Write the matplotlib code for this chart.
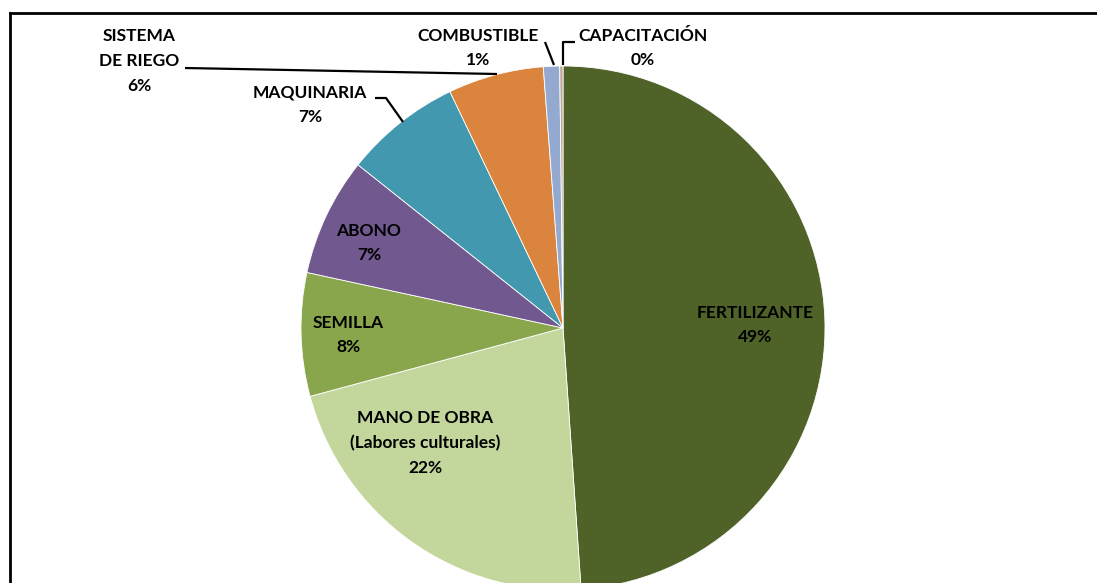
import matplotlib

matplotlib.use("Agg")

import matplotlib.pyplot as plt
import numpy as np

# data (share of production cost, %)
categories = ["FERTILIZANTE", "MANO DE OBRA\n(Labores culturales)", "SEMILLA", "ABONO",
              "MAQUINARIA", "SISTEMA\nDE RIEGO", "COMBUSTIBLE", "CAPACITACIÓN"]
shares = [48.9, 21.9, 7.6, 7.3, 7.2, 5.9, 1.0, 0.2]
colors = ["#4F6228", "#C3D69B", "#8AA64D", "#71588F", "#4198AF", "#DB843D", "#93A9D0", "#BFA898"]

# label placement in pixel coords (x, y from top)
label_pos = [(755, 325), (425, 443), (348, 335), (369, 243),
             (310, 105), (139, 61), (478, 48), (643, 48)]

W, H = 1097, 583
CX, CY, R = 563, 328, 262

plt.rcParams["font.family"] = ["Lato", "DejaVu Sans"]

fig = plt.figure(figsize=(W / 100, H / 100), dpi=100)
ax = fig.add_axes([0, 0, 1, 1])
ax.set_aspect("equal")
ax.axis("off")

wedges, _ = ax.pie(shares, colors=colors, startangle=90, counterclock=False,
                   center=(CX, H - CY), radius=R,
                   wedgeprops=dict(edgecolor="white", linewidth=0.6))
ax.set_xlim(0, W)
ax.set_ylim(0, H)

for name, val, (lx, ly) in zip(categories, shares, label_pos):
    ax.text(lx, H - ly, f"{name}\n{val:.0f}%", ha="center", va="center",
            fontsize=12.5, fontweight="bold", color="black", linespacing=1.68)

# leader lines for the outside labels
def leader(pts):
    xs = [p[0] for p in pts]
    ys = [H - p[1] for p in pts]
    ax.plot(xs, ys, color="black", lw=1.6, solid_capstyle="butt")

leader([(185, 68), (497, 74)])
leader([(375, 98), (386, 98), (403, 122)])
leader([(545, 42), (554, 65)])
leader([(575, 42), (563, 42), (563, 65)])

# chart frame (top and left edges visible)
ax.plot([10, W], [H - 13, H - 13], color="black", lw=2)
ax.plot([10, 10], [H - 13, 0], color="black", lw=2)

fig.savefig("out.png", dpi=100)
